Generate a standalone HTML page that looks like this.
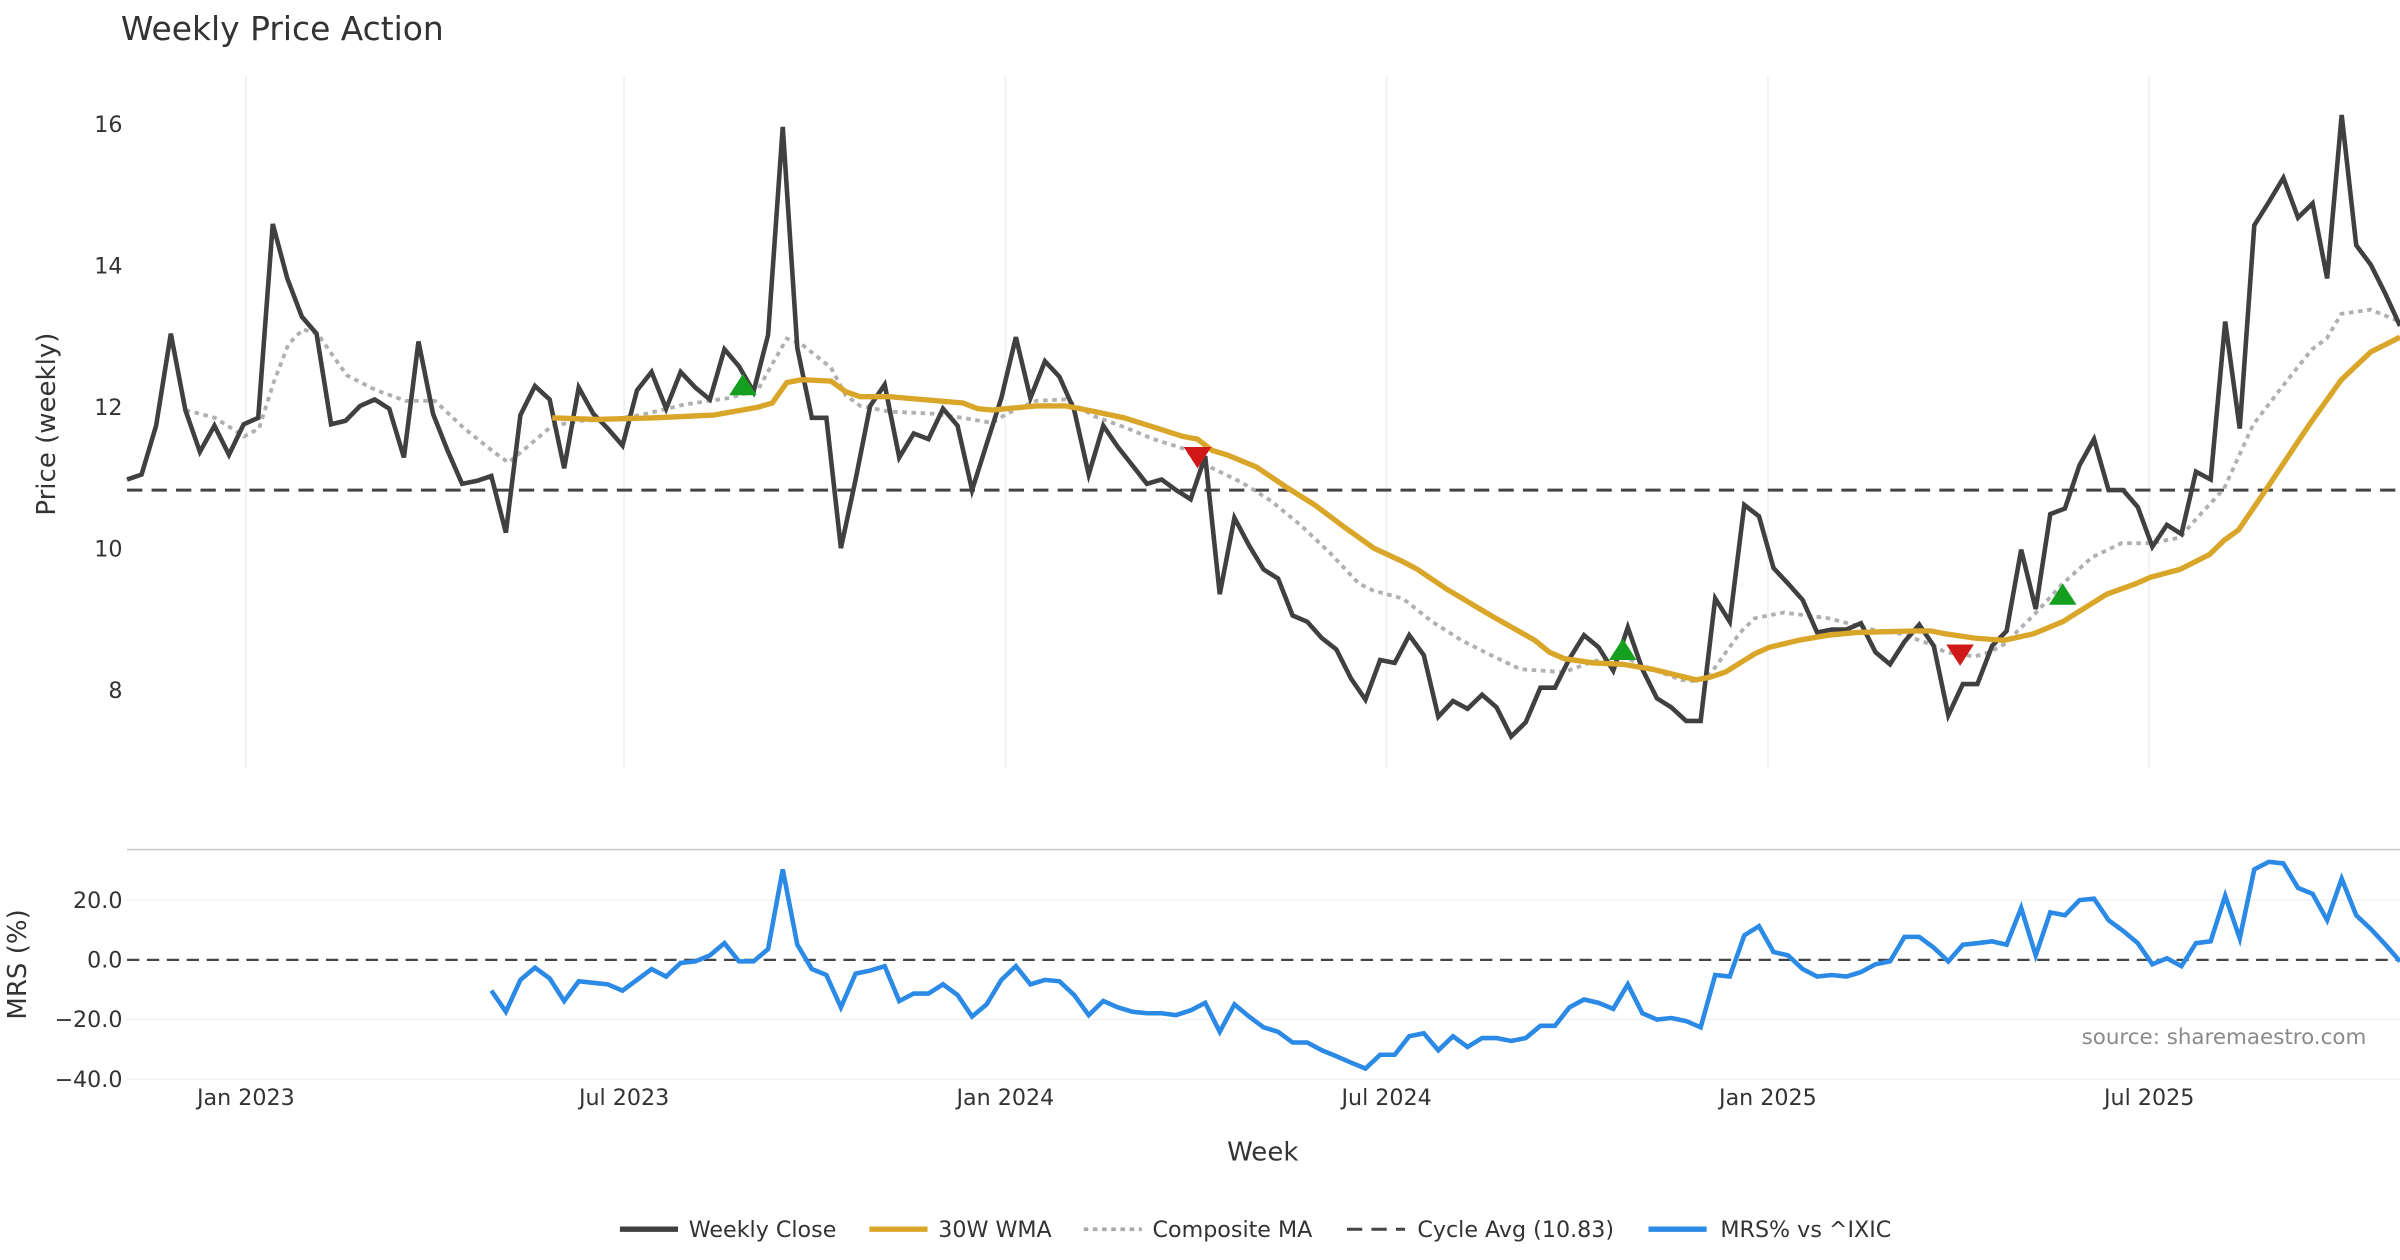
<!DOCTYPE html>
<html><head><meta charset="utf-8"><title>Weekly Price Action</title>
<style>
html,body{margin:0;padding:0;background:#fff;}
svg{display:block;font-family:"DejaVu Sans","Liberation Sans",sans-serif;}
</style></head>
<body>
<svg id="chart" width="2400" height="1260" viewBox="0 0 1568 823" xmlns="http://www.w3.org/2000/svg">
<rect x="0" y="0" width="1568" height="823" fill="#fff"/>
<text x="79" y="26" font-size="21.5" fill="#333">Weekly Price Action</text>
<g id="grid"></g>
<g id="price"></g>
<g id="mrs"></g>
<g id="axes"></g>
<text transform="translate(36,277) rotate(-90)" text-anchor="middle" font-size="17" fill="#333">Price (weekly)</text>
<text transform="translate(17,630) rotate(-90)" text-anchor="middle" font-size="17" fill="#333">MRS (%)</text>
<text x="825" y="758" text-anchor="middle" font-size="17" fill="#333">Week</text>
<text x="1546" y="682" text-anchor="end" font-size="14" fill="#8a8a8a">source: sharemaestro.com</text>
<g font-size="14.5" fill="#333">
 <g><line x1="405" y1="803" x2="443" y2="803" stroke="#404040" stroke-width="3.5"/><text x="450" y="808">Weekly Close</text></g>
 <g><line x1="568" y1="803" x2="606" y2="803" stroke="#d9a62a" stroke-width="3.5"/><text x="613" y="808">30W WMA</text></g>
 <g><line x1="708" y1="803" x2="746" y2="803" stroke="#aaa" stroke-width="2.5" stroke-dasharray="3,3"/><text x="753" y="808">Composite MA</text></g>
 <g><line x1="880" y1="803" x2="918" y2="803" stroke="#444" stroke-width="2" stroke-dasharray="10,6"/><text x="926" y="808">Cycle Avg (10.83)</text></g>
 <g><line x1="1077" y1="803" x2="1115" y2="803" stroke="#2b8ae6" stroke-width="3.5"/><text x="1124" y="808">MRS% vs ^IXIC</text></g>
</g>
</svg>
<script>
const closeVals=[10.98,11.05,11.74,13.04,11.96,11.37,11.74,11.33,11.76,11.85,14.59,13.82,13.28,13.04,11.76,11.81,12.02,12.11,11.98,11.29,12.93,11.91,11.39,10.92,10.96,11.03,10.23,11.89,12.30,12.11,11.14,12.28,11.91,11.70,11.46,12.24,12.50,11.98,12.50,12.28,12.11,12.82,12.58,12.22,13.02,15.96,12.84,11.85,11.85,10.01,10.98,12.02,12.32,11.29,11.63,11.55,11.98,11.74,10.83,11.48,12.13,12.99,12.13,12.65,12.43,11.96,11.05,11.74,11.44,11.18,10.92,10.98,10.83,10.70,11.31,9.36,10.44,10.05,9.71,9.58,9.06,8.97,8.74,8.58,8.17,7.87,8.43,8.39,8.78,8.50,7.63,7.85,7.74,7.94,7.76,7.35,7.55,8.04,8.04,8.45,8.78,8.61,8.28,8.89,8.30,7.89,7.76,7.57,7.57,9.30,8.97,10.62,10.46,9.73,9.51,9.28,8.82,8.86,8.86,8.95,8.54,8.37,8.69,8.93,8.63,7.65,8.09,8.09,8.63,8.84,9.99,9.15,10.49,10.57,11.18,11.55,10.83,10.83,10.59,10.03,10.34,10.21,11.09,10.98,13.21,11.70,14.57,14.90,15.24,14.68,14.88,13.82,16.13,14.29,14.01,13.60,13.15];
const wmaWeeks=[29,32,36,40,43,44,45,46,48,49,50,52,57,58,59,62,64,66,68,70,72,73,74,75,77,79,81,83,85,87,88,90,93,96,97,98,100,102,104,107,108,109,111,112,114,116,118,122,123,124,126,128,130,132,134,135,137,138,140,142,143,144,146,148,149,151,153,155];
const wmaVals=[11.85,11.83,11.85,11.89,12.00,12.06,12.35,12.39,12.37,12.22,12.15,12.15,12.06,11.98,11.96,12.02,12.02,11.94,11.85,11.72,11.59,11.55,11.39,11.33,11.16,10.88,10.62,10.31,10.01,9.82,9.71,9.43,9.06,8.71,8.54,8.45,8.39,8.37,8.30,8.15,8.19,8.26,8.52,8.61,8.71,8.78,8.82,8.84,8.84,8.80,8.74,8.71,8.80,8.97,9.23,9.36,9.51,9.60,9.71,9.92,10.12,10.27,10.88,11.50,11.81,12.39,12.78,12.99];
const compWeeks=[4,6,8,9,10,11,12,13,14,15,17,19,21,23,25,26,27,29,31,33,35,38,41,43,44,45,46,48,49,50,52,55,57,59,60,62,64,66,68,70,72,74,76,78,80,82,84,85,87,89,91,93,95,98,100,102,104,106,107,108,110,111,113,116,119,121,123,124,126,127,128,130,132,134,136,138,140,141,143,145,147,149,150,151,153,155];
const compVals=[11.96,11.85,11.59,11.70,12.35,12.89,13.10,13.04,12.74,12.45,12.24,12.09,12.09,11.70,11.37,11.22,11.39,11.74,11.81,11.83,11.89,12.04,12.13,12.24,12.61,12.97,12.89,12.56,12.17,12.02,11.94,11.91,11.85,11.78,11.91,12.09,12.11,11.87,11.72,11.55,11.42,11.14,10.94,10.68,10.34,9.95,9.51,9.41,9.30,8.97,8.71,8.50,8.30,8.26,8.41,8.48,8.30,8.15,8.13,8.24,8.82,9.02,9.10,9.02,8.86,8.80,8.65,8.54,8.48,8.54,8.65,9.06,9.51,9.88,10.08,10.08,10.16,10.40,10.85,11.76,12.30,12.82,12.97,13.32,13.38,13.21];
const cycleAvg=10.83;
const buyWeeks=[42,102,132];
const buyVals=[12.30,8.56,9.34];
const sellWeeks=[73,125];
const sellVals=[11.31,8.52];
const mrsVals=[-10.3,-17.4,-6.7,-2.6,-6.2,-13.8,-7.2,-7.7,-8.2,-10.3,-6.7,-3.1,-5.6,-1.0,-0.5,1.5,5.6,-0.5,-0.5,3.6,30.3,5.1,-3.1,-5.1,-15.9,-4.6,-3.6,-2.1,-13.8,-11.3,-11.3,-8.2,-11.8,-19.0,-14.9,-6.7,-2.1,-8.2,-6.7,-7.2,-11.8,-18.5,-13.8,-15.9,-17.4,-17.9,-17.9,-18.5,-16.9,-14.4,-24.1,-14.9,-19.0,-22.6,-24.1,-27.7,-27.7,-30.3,-32.3,-34.4,-36.4,-31.8,-31.8,-25.6,-24.6,-30.3,-25.6,-29.2,-26.2,-26.2,-27.2,-26.2,-22.1,-22.1,-15.9,-13.3,-14.4,-16.4,-8.2,-17.9,-20.0,-19.5,-20.5,-22.6,-5.1,-5.6,8.2,11.3,2.6,1.5,-3.1,-5.6,-5.1,-5.6,-4.1,-1.5,-0.5,7.7,7.7,4.1,-0.5,5.1,5.6,6.2,5.1,17.4,1.5,15.9,14.9,20.0,20.5,13.3,9.7,5.6,-1.5,0.5,-2.1,5.6,6.2,21.5,7.2,30.3,32.8,32.3,24.1,22.1,13.3,27.2,14.9,10.3,5.1,-0.5];
const priceTicks=[8,10,12,14,16];
const mrsTicks=[20,0,-20,-40];
const mrsTickLabels=["20.0","0.0","\u221220.0","\u221240.0"];
const dateTickWeeks=[8,34,60,86,112,138];
const dateTickLabels=["Jan 2023","Jul 2023","Jan 2024","Jul 2024","Jan 2025","Jul 2025"];

const NS="http://www.w3.org/2000/svg";
const X0=83,X1=1568,NW=156;
function xs(i){return X0+i*(X1-X0)/(NW-1);}
function xc(i,len){return X0+i*(X1-X0)/(len-1);}
function yp(v){return 451-(v-8)*46.25;}
function ym(v){return 627-v*1.95;}
function mk(tag,attrs,parent){const e=document.createElementNS(NS,tag);for(const k in attrs)e.setAttribute(k,attrs[k]);parent.appendChild(e);return e;}
const grid=document.getElementById('grid'),price=document.getElementById('price'),mrs=document.getElementById('mrs'),axes=document.getElementById('axes');

dateTickWeeks.forEach((w,k)=>{
 const x=xs(w)+(k===0?1:-1);
 const g=mk('line',{x1:x,y1:50,x2:x,y2:502,stroke:'#eceff3','stroke-width':1},grid);
 
 
 const t=mk('text',{x:x,y:722,'text-anchor':'middle','font-size':14.5,fill:'#333'},axes);
 t.textContent=dateTickLabels[k];
 
 
});
priceTicks.forEach(v=>{
 const t=mk('text',{x:80,y:yp(v)+5,'text-anchor':'end','font-size':14.5,fill:'#333'},axes);
 t.textContent=String(v);
 
 
});
mrsTicks.forEach((v,k)=>{
 const t=mk('text',{x:80,y:ym(v)+5,'text-anchor':'end','font-size':14.5,fill:'#333'},axes);
 t.textContent=mrsTickLabels[k];
 
 
 if(v!==0){const gl=mk('line',{x1:X0,y1:ym(v),x2:X1,y2:ym(v),stroke:'#f0f2f5','stroke-width':1},grid);
 
 }
});
const sep=mk('line',{x1:X0,y1:555,x2:X1,y2:555,stroke:'#cfcfcf','stroke-width':1.2},axes);



const cyc=mk('line',{x1:X0,y1:yp(cycleAvg),x2:X1,y2:yp(cycleAvg),stroke:'#444','stroke-width':2,'stroke-dasharray':'10,6'},price);



function pts(ws,vs,yf){return ws.map((w,i)=>xs(w).toFixed(1)+','+yf(vs[i]).toFixed(1)).join(' ');}
const comp=mk('polyline',{points:pts(compWeeks,compVals,yp),fill:'none',stroke:'#b0b0b0','stroke-width':2.5,'stroke-dasharray':'3,3'},price);


const cl=mk('polyline',{points:closeVals.map((v,i)=>xc(i,closeVals.length).toFixed(1)+','+yp(v).toFixed(1)).join(' '),fill:'none',stroke:'#404040','stroke-width':3},price);


const wma=mk('polyline',{points:pts(wmaWeeks,wmaVals,yp),fill:'none',stroke:'#d9a62a','stroke-width':3.5},price);


buyWeeks.forEach((w,i)=>{const x=xs(w),y=yp(buyVals[i]);
 const p=mk('polygon',{points:`${x-9},${y+6} ${x+9},${y+6} ${x},${y-8}`,fill:'#14a01e'},price);
 
 });
sellWeeks.forEach((w,i)=>{const x=xs(w),y=yp(sellVals[i]);
 const p=mk('polygon',{points:`${x-9},${y-6} ${x+9},${y-6} ${x},${y+8}`,fill:'#d01818'},price);
 
 });

const z=mk('line',{x1:X0,y1:ym(0),x2:X1,y2:ym(0),stroke:'#444','stroke-width':1.5,'stroke-dasharray':'8,5'},mrs);


const L=closeVals.length;
const start=L-mrsVals.length;
const ml=mk('polyline',{points:mrsVals.map((v,i)=>xc(start+i,L).toFixed(1)+','+ym(v).toFixed(1)).join(' '),fill:'none',stroke:'#2b8ae6','stroke-width':3},mrs);


</script>
</body></html>
